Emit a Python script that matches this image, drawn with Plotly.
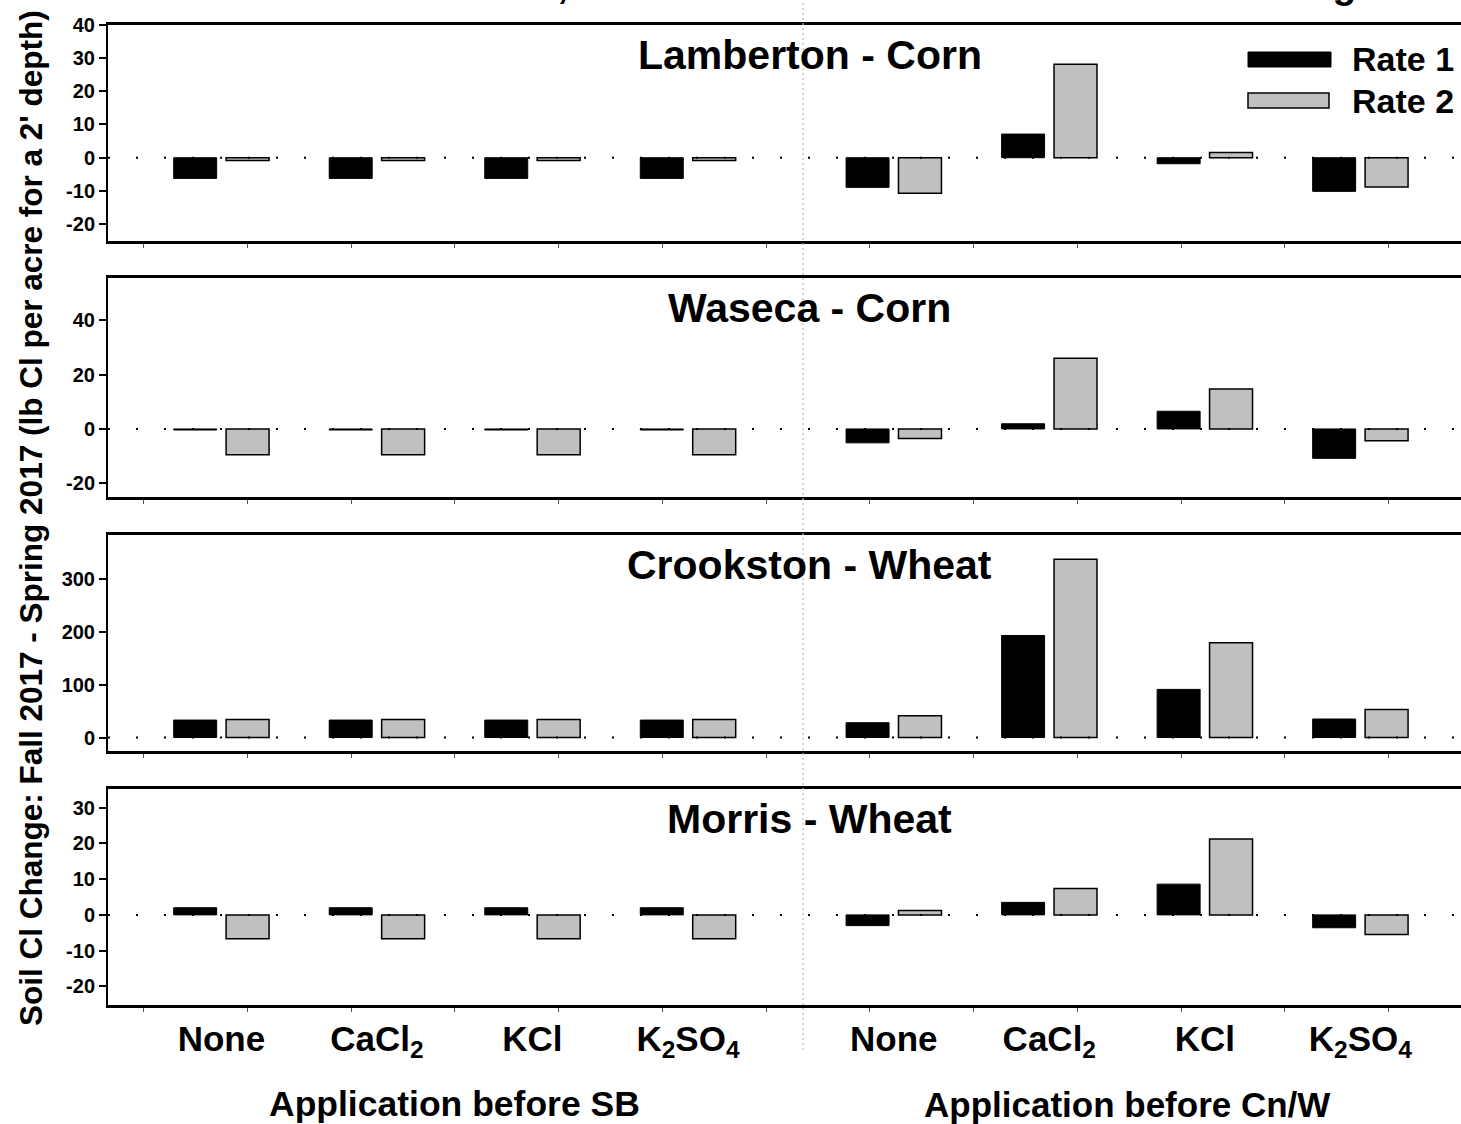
import plotly.graph_objects as go

# ---------------- data ----------------
sites = ["Lamberton - Corn", "Waseca - Corn", "Crookston - Wheat", "Morris - Wheat"]
tick_labels = ["None", "CaCl<sub>2</sub>", "KCl", "K<sub>2</sub>SO<sub>4</sub>",
               "None", "CaCl<sub>2</sub>", "KCl", "K<sub>2</sub>SO<sub>4</sub>"]
timing_groups = ["Application before SB", "Application before Cn/W"]

lamberton_rate1 = [-6.2, -6.2, -6.2, -6.2, -8.9, 7.1, -1.8, -10.1]
lamberton_rate2 = [-0.8, -0.8, -0.8, -0.8, -10.7, 28.1, 1.6, -8.8]
waseca_rate1 = [-0.4, -0.4, -0.4, -0.4, -5.1, 1.9, 6.5, -10.8]
waseca_rate2 = [-9.5, -9.5, -9.5, -9.5, -3.5, 26.0, 14.7, -4.3]
crookston_rate1 = [33, 33, 33, 33, 28, 193, 91, 35]
crookston_rate2 = [34, 34, 34, 34, 41, 337, 179, 53]
morris_rate1 = [2.0, 2.0, 2.0, 2.0, -3.0, 3.5, 8.6, -3.6]
morris_rate2 = [-6.7, -6.7, -6.7, -6.7, 1.2, 7.4, 21.2, -5.5]

rate1 = [lamberton_rate1, waseca_rate1, crookston_rate1, morris_rate1]
rate2 = [lamberton_rate2, waseca_rate2, crookston_rate2, morris_rate2]

y_ranges = [[-25, 40], [-25, 55.3], [-25.5, 383], [-25.2, 35.2]]
y_ticks = [[-20, -10, 0, 10, 20, 30, 40], [-20, 0, 20, 40], [0, 100, 200, 300],
           [-20, -10, 0, 10, 20, 30]]

# layout of groups on the category axis (extra gap between the two timings)
timing_gap = 0.323
x_pos = [0, 1, 2, 3, 4 + timing_gap, 5 + timing_gap, 6 + timing_gap, 7 + timing_gap]
x_range = [-0.729, 7.97]
divider_x = 3.74

FONT = "Liberation Sans, Arial, sans-serif"
W, H = 1461, 1124
ML = 108

# subplot vertical placement in pixels (top, bottom)
panels_px = [(24.5, 241), (278.4, 497), (535, 751), (789, 1005)]

fig = go.Figure()

for i in range(4):
    sfx = "" if i == 0 else str(i + 1)
    fig.add_trace(go.Bar(
        x=x_pos, y=rate1[i], name="Rate 1", showlegend=False,
        marker=dict(color="black", line=dict(color="black", width=1)),
        xaxis="x" + sfx, yaxis="y" + sfx, offsetgroup="r1"))
    fig.add_trace(go.Bar(
        x=x_pos, y=rate2[i], name="Rate 2", showlegend=False,
        marker=dict(color="#c0c0c0", line=dict(color="black", width=1.5)),
        xaxis="x" + sfx, yaxis="y" + sfx, offsetgroup="r2"))

layout = dict(
    width=W, height=H,
    margin=dict(l=ML, r=0, t=0, b=0, autoexpand=False),
    paper_bgcolor="white", plot_bgcolor="white",
    barmode="group", bargap=0.326, bargroupgap=0.18,
    showlegend=False,
    font=dict(family=FONT, color="black"),
)

shapes = []
annotations = []
for i in range(4):
    sfx = "" if i == 0 else str(i + 1)
    top, bot = panels_px[i]
    dom = [1 - bot / H, 1 - top / H]
    layout["xaxis" + sfx] = dict(
        domain=[0, 1], anchor="y" + sfx, range=x_range,
        showline=True, mirror=True, linecolor="black", linewidth=2.5,
        showgrid=False, zeroline=False, ticks="",
        tickvals=x_pos, ticktext=tick_labels,
        showticklabels=(i == 3), automargin=False,
        tickfont=dict(size=35, family=FONT, weight="bold"),
        ticklabelstandoff=1,
        minor=dict(ticks="outside", ticklen=4, tickwidth=1, tickcolor="#555",
                   tickvals=[-0.5 + k * 0.667 for k in range(13)]),
    )
    layout["yaxis" + sfx] = dict(
        domain=dom, anchor="x" + sfx, range=y_ranges[i],
        showline=True, linecolor="black", linewidth=2,
        showgrid=False, zeroline=False, automargin=False,
        ticks="outside", ticklen=7, tickwidth=1.5, tickcolor="black",
        tickvals=y_ticks[i], ticktext=[str(v) for v in y_ticks[i]],
        tickfont=dict(size=20, family=FONT, weight="bold"),
    )
    # dotted zero reference line
    shapes.append(dict(type="line", xref="x" + sfx + " domain", yref="y" + sfx,
                       x0=0, x1=1, y0=0, y1=0,
                       line=dict(color="black", width=2, dash="2px,26px")))
    # panel title
    annotations.append(dict(text="<b>" + sites[i] + "</b>", xref="paper",
                            yref="y" + sfx + " domain", x=0.5188,
                            y=1 - 30 / (bot - top), xanchor="center", yanchor="middle",
                            showarrow=False, font=dict(size=41, family=FONT)))

# vertical divider between timings
shapes.append(dict(type="line", xref="x", yref="paper", x0=divider_x, x1=divider_x,
                   y0=1 - 1050 / H, y1=1,
                   line=dict(color="#b8b8b8", width=1.2, dash="2px,3px")))

# legend swatches
def px_x(p):
    return (p - ML) / (W - ML)

def px_y(p):
    return 1 - p / H

shapes.append(dict(type="rect", xref="paper", yref="paper",
                   x0=px_x(1248), x1=px_x(1331), y0=px_y(67), y1=px_y(52),
                   fillcolor="black", line=dict(color="black", width=1)))
shapes.append(dict(type="rect", xref="paper", yref="paper",
                   x0=px_x(1248), x1=px_x(1329), y0=px_y(108), y1=px_y(93),
                   fillcolor="#c0c0c0", line=dict(color="black", width=1.5)))
annotations.append(dict(text="<b>Rate 1</b>", xref="paper", yref="paper",
                        x=px_x(1350), y=px_y(59), xanchor="left", yanchor="middle",
                        showarrow=False, font=dict(size=34, family=FONT)))
annotations.append(dict(text="<b>Rate 2</b>", xref="paper", yref="paper",
                        x=px_x(1350), y=px_y(101), xanchor="left", yanchor="middle",
                        showarrow=False, font=dict(size=34, family=FONT)))

# timing group labels
annotations.append(dict(text="<b>" + timing_groups[0] + "</b>", xref="x", yref="paper",
                        x=(x_pos[0] + x_pos[3]) / 2, y=px_y(1104), xanchor="center",
                        yanchor="middle", showarrow=False, font=dict(size=35.5, family=FONT)))
annotations.append(dict(text="<b>" + timing_groups[1] + "</b>", xref="x", yref="paper",
                        x=(x_pos[4] + x_pos[7]) / 2, y=px_y(1104), xanchor="center",
                        yanchor="middle", showarrow=False, font=dict(size=35, family=FONT)))

# y-axis title
annotations.append(dict(
    text="<b>Soil Cl Change: Fall 2017 - Spring 2017 (lb Cl per acre for a 2' depth)</b>",
    xref="paper", yref="paper", x=px_x(31), y=px_y(518), textangle=-90,
    xanchor="center", yanchor="middle", showarrow=False,
    font=dict(size=31.5, family=FONT)))

# main title (clipped at the top edge in the reference)
annotations.append(dict(
    text="<b>Cl Rate, Source and Time Effects on Soil Cl Change</b>",
    xref="paper", yref="paper", x=px_x(1380), y=px_y(8),
    xanchor="right", yanchor="bottom", showarrow=False,
    font=dict(size=39, family=FONT)))

layout["shapes"] = shapes
layout["annotations"] = annotations
fig.update_layout(**layout)

fig.write_html("out.html",
               config={"displayModeBar": False},
               post_script="document.body.style.margin='0';document.body.style.padding='0';")
